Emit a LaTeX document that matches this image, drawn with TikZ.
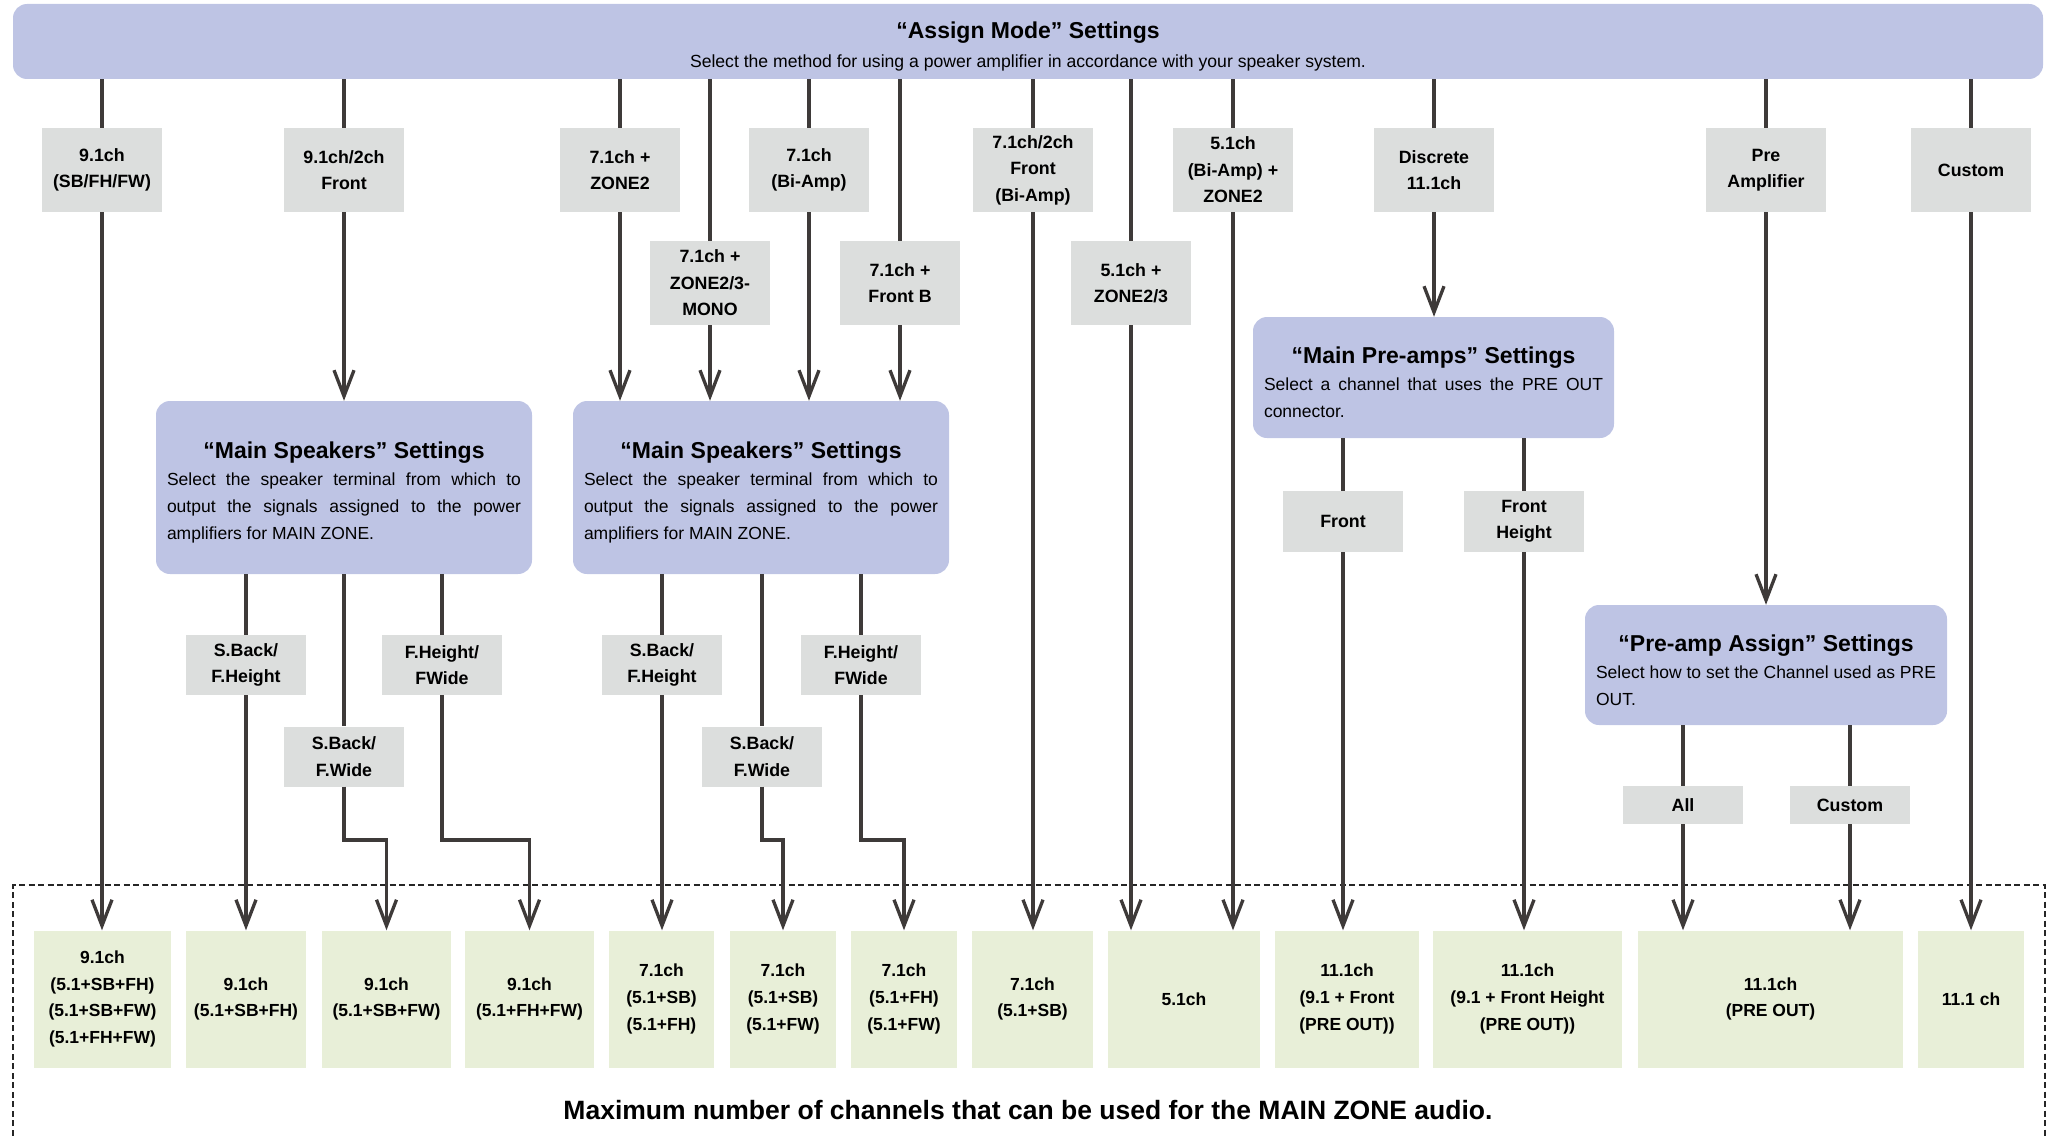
\documentclass[tikz,border=0pt]{standalone}
\usepackage{fontspec}
\setmainfont{Liberation Sans}
\usetikzlibrary{arrows.meta}
\definecolor{setblue}{RGB}{190,196,228}
\definecolor{optgray}{RGB}{220,222,221}
\definecolor{chgreen}{RGB}{232,239,216}
\definecolor{wire}{RGB}{62,58,57}
\tikzset{
  settings/.style={fill=setblue, rounded corners=14pt, align=justify, inner ysep=0pt, inner xsep=11pt, font=\fontsize{17.5}{27}\selectfont},
  option/.style={fill=optgray, minimum width=120pt, minimum height=84pt, inner sep=0pt, align=center, font=\fontsize{17.8}{26.5}\selectfont\bfseries},
  result/.style={fill=chgreen, minimum height=137pt, inner sep=0pt, align=center, font=\fontsize{17.5}{26.7}\selectfont\bfseries},
  link/.style={draw=wire, line width=3.3pt},
  arr/.style={link, -{Straight Barb[length=26pt,width=20pt]}}
}
\newcommand\boxtitle[1]{{\centering\fontsize{23}{28}\selectfont\bfseries\rule{0pt}{27pt}#1\par}}
\begin{document}
\begin{tikzpicture}[x=1pt,y=-1pt]
\useasboundingbox (0,0) rectangle (2055,1137);
\node[fill=setblue, rounded corners=14pt, minimum width=2030pt, minimum height=75pt, align=center, font=\fontsize{17.6}{29}\selectfont] (assign) at (1028,41.5) {{\fontsize{23}{28}\selectfont\bfseries\rule{0pt}{27pt}“Assign Mode” Settings}\\Select the method for using a power amplifier in accordance with your speaker system.};
\node[option] (o91) at (102,170) {9.1ch\\(SB/FH/FW)};
\node[option] (o91f) at (344,170) {9.1ch/2ch\\Front};
\node[option] (o71z) at (620,170) {7.1ch +\\ZONE2};
\node[option] (o71b) at (809,170) {7.1ch\\(Bi-Amp)};
\node[option] (o71fb) at (1033,170) {7.1ch/2ch\\Front\\(Bi-Amp)};
\node[option] (o51b) at (1233,170) {5.1ch\\(Bi-Amp) +\\ZONE2};
\node[option] (odis) at (1434,170) {Discrete\\11.1ch};
\node[option] (opre) at (1766,170) {Pre\\Amplifier};
\node[option] (ocus) at (1971,170) {Custom};
\node[option] (o71m) at (710,283) {7.1ch +\\ZONE2/3-\\MONO};
\node[option] (o71f) at (900,283) {7.1ch +\\Front B};
\node[option] (o51z) at (1131,283) {5.1ch +\\ZONE2/3};
\node[settings, text width=354pt, minimum height=173pt] (spk1) at (344,487.5) {\boxtitle{“Main Speakers” Settings}Select the speaker terminal from which to\linebreak output the signals assigned to the power\linebreak amplifiers for MAIN ZONE.};
\node[settings, text width=354pt, minimum height=173pt] (spk2) at (761,487.5) {\boxtitle{“Main Speakers” Settings}Select the speaker terminal from which to\linebreak output the signals assigned to the power\linebreak amplifiers for MAIN ZONE.};
\node[settings, text width=339pt, minimum height=121pt] (pre1) at (1433.5,377.5) {\boxtitle{“Main Pre-amps” Settings}Select a channel that uses the PRE OUT\linebreak connector.};
\node[settings, text width=340pt, minimum height=120pt] (pre2) at (1766,665) {\boxtitle{“Pre-amp Assign” Settings}Select how to set the Channel used as PRE OUT.};
\node[option, minimum height=60pt] (sbfh1) at (246,665) {S.Back/\\F.Height};
\node[option, minimum height=60pt] (fhfw1) at (442,665) {F.Height/\\FWide};
\node[option, minimum height=60pt] (sbfw1) at (344,756.5) {S.Back/\\F.Wide};
\node[option, minimum height=60pt] (sbfh2) at (662,665) {S.Back/\\F.Height};
\node[option, minimum height=60pt] (fhfw2) at (861,665) {F.Height/\\FWide};
\node[option, minimum height=60pt] (sbfw2) at (762,756.5) {S.Back/\\F.Wide};
\node[option, minimum height=61pt] (pfr) at (1343,521.5) {Front};
\node[option, minimum height=61pt] (pfh) at (1524,521.5) {Front\\Height};
\node[option, minimum height=38pt] (pall) at (1683,805) {All};
\node[option, minimum height=38pt] (pcus) at (1850,805) {Custom};
\node[result, minimum width=137pt] (r1) at (102.5,999) {9.1ch\\(5.1+SB+FH)\\(5.1+SB+FW)\\(5.1+FH+FW)};
\node[result, minimum width=120pt] (r2) at (246,999) {9.1ch\\(5.1+SB+FH)};
\node[result, minimum width=129pt] (r3) at (386.5,999) {9.1ch\\(5.1+SB+FW)};
\node[result, minimum width=129pt] (r4) at (529.5,999) {9.1ch\\(5.1+FH+FW)};
\node[result, minimum width=105pt] (r5) at (661.5,999) {7.1ch\\(5.1+SB)\\(5.1+FH)};
\node[result, minimum width=106pt] (r6) at (783,999) {7.1ch\\(5.1+SB)\\(5.1+FW)};
\node[result, minimum width=106pt] (r7) at (904,999) {7.1ch\\(5.1+FH)\\(5.1+FW)};
\node[result, minimum width=121pt] (r8) at (1032.5,999) {7.1ch\\(5.1+SB)};
\node[result, minimum width=152pt] (r9) at (1184,999) {5.1ch};
\node[result, minimum width=144pt] (r10) at (1347,999) {11.1ch\\(9.1 + Front\\(PRE OUT))};
\node[result, minimum width=189pt] (r11) at (1527.5,999) {11.1ch\\(9.1 + Front Height\\(PRE OUT))};
\node[result, minimum width=265pt] (r12) at (1770.5,999) {11.1ch\\(PRE OUT)};
\node[result, minimum width=106pt] (r13) at (1971,999) {11.1 ch};
\draw[black!85, line width=2.4pt, dash pattern=on 6pt off 3.5pt] (13,1145) -- (13,885) -- (2045,885) -- (2045,1145);
\node[font=\fontsize{26.5}{30}\selectfont\bfseries] (cap) at (1028,1110) {Maximum number of channels that can be used for the MAIN ZONE audio.};
\draw[link] (assign.south -| o91) -- (o91);
\draw[link] (assign.south -| o91f) -- (o91f);
\draw[link] (assign.south -| o71z) -- (o71z);
\draw[link] (assign.south -| o71m) -- (o71m);
\draw[link] (assign.south -| o71b) -- (o71b);
\draw[link] (assign.south -| o71f) -- (o71f);
\draw[link] (assign.south -| o71fb) -- (o71fb);
\draw[link] (assign.south -| o51z) -- (o51z);
\draw[link] (assign.south -| o51b) -- (o51b);
\draw[link] (assign.south -| odis) -- (odis);
\draw[link] (assign.south -| opre) -- (opre);
\draw[link] (assign.south -| ocus) -- (ocus);
\draw[arr] (o91) -- (o91 |- r1.north);
\draw[arr] (o91f) -- (o91f |- spk1.north);
\draw[arr] (o71z) -- (o71z |- spk2.north);
\draw[arr] (o71m) -- (o71m |- spk2.north);
\draw[arr] (o71b) -- (o71b |- spk2.north);
\draw[arr] (o71f) -- (o71f |- spk2.north);
\draw[arr] (o71fb) -- (o71fb |- r8.north);
\draw[arr] (o51z) -- (o51z |- r9.north);
\draw[arr] (o51b) -- (o51b |- r9.north);
\draw[arr] (odis) -- (odis |- pre1.north);
\draw[arr] (opre) -- (opre |- pre2.north);
\draw[arr] (ocus) -- (ocus |- r13.north);
\draw[link] (spk1.south -| sbfh1) -- (sbfh1);
\draw[link] (spk1.south -| sbfw1) -- (sbfw1);
\draw[link] (spk1.south -| fhfw1) -- (fhfw1);
\draw[link] (spk2.south -| sbfh2) -- (sbfh2);
\draw[link] (spk2.south -| sbfw2) -- (sbfw2);
\draw[link] (spk2.south -| fhfw2) -- (fhfw2);
\draw[arr] (sbfh1) -- (sbfh1 |- r2.north);
\draw[arr] (sbfw1) -- (sbfw1 |- 0,840) -| (r3.north);
\draw[arr] (fhfw1) -- (fhfw1 |- 0,840) -| (r4.north);
\draw[arr] (sbfh2) -- (sbfh2 |- r5.north);
\draw[arr] (sbfw2) -- (sbfw2 |- 0,840) -| (r6.north);
\draw[arr] (fhfw2) -- (fhfw2 |- 0,840) -| (r7.north);
\draw[link] (pre1.south -| pfr) -- (pfr);
\draw[link] (pre1.south -| pfh) -- (pfh);
\draw[arr] (pfr) -- (pfr |- r10.north);
\draw[arr] (pfh) -- (pfh |- r11.north);
\draw[link] (pre2.south -| pall) -- (pall);
\draw[link] (pre2.south -| pcus) -- (pcus);
\draw[arr] (pall) -- (pall |- r12.north);
\draw[arr] (pcus) -- (pcus |- r12.north);
\end{tikzpicture}
\end{document}
